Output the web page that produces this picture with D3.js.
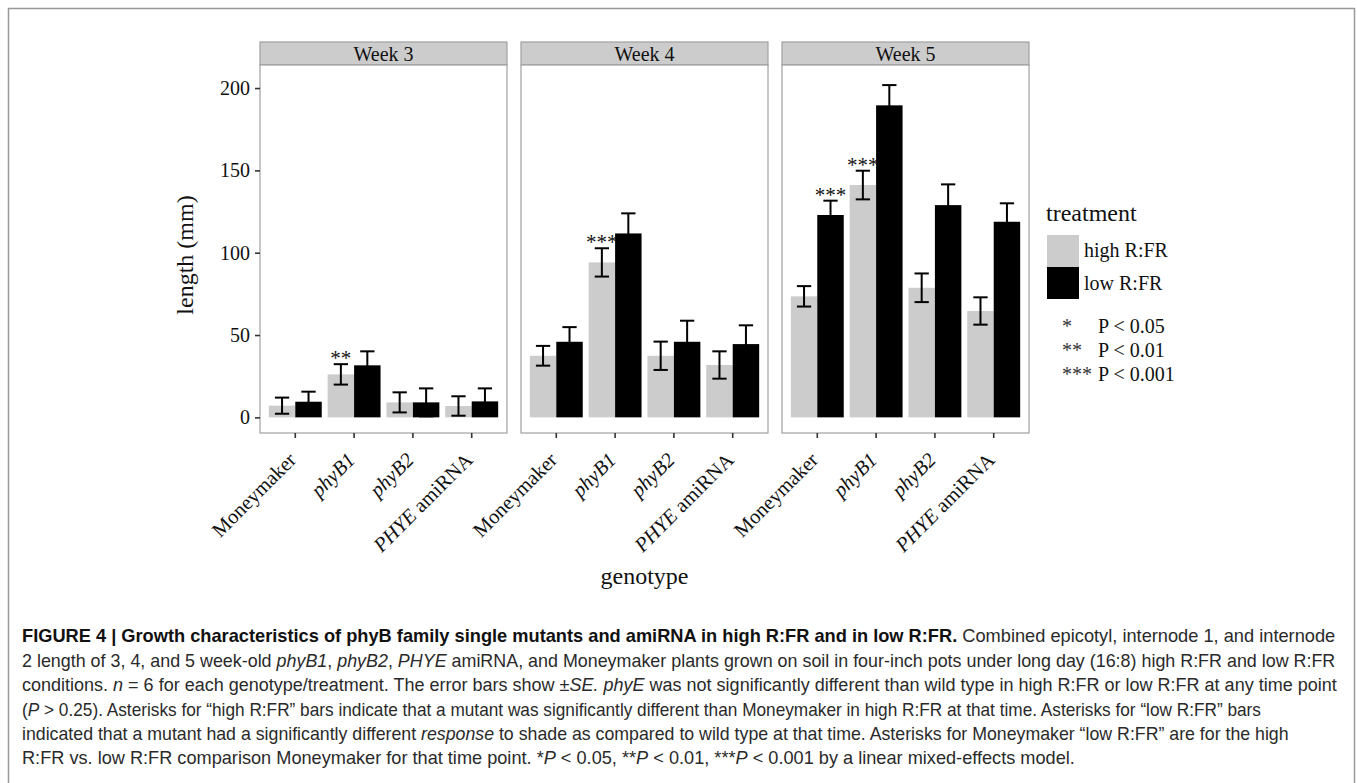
<!DOCTYPE html>
<html><head><meta charset="utf-8">
<script src="https://cdn.jsdelivr.net/npm/d3@7"></script>
<style>body{margin:0;background:#fff} svg{display:block} text{white-space:pre}</style>
</head><body><svg id="c" width="1357" height="783"></svg>
<script>
// ---------- data ----------
const weeks = ["Week 3", "Week 4", "Week 5"];
const genotypes = ["Moneymaker", "phyB1", "phyB2", "PHYE amiRNA"];
const treatments = ["high R:FR", "low R:FR"];
// mean length (mm), rows = weeks, cols = genotypes
const highMean = [[7.1, 26.1, 9.1, 6.9], [37.4, 94.1, 37.4, 31.8], [73.5, 141.1, 78.7, 64.6]];
const highSE   = [[4.9, 6.2, 6.1, 5.9], [6.0, 8.6, 8.6, 8.3], [6.2, 8.7, 8.7, 8.3]];
const lowMean  = [[9.5, 31.6, 9.1, 9.7], [45.9, 111.7, 45.9, 44.5], [122.9, 189.5, 128.9, 118.8]];
const lowSE    = [[6.1, 8.5, 8.5, 7.9], [8.9, 12.2, 12.8, 11.4], [8.7, 12.3, 12.6, 11.2]];
const yTicks = [0, 50, 100, 150, 200];
// significance marks
const sigWeek = ["Week 3", "Week 4", "Week 5", "Week 5"];
const sigGenotype = ["phyB1", "phyB1", "Moneymaker", "phyB1"];
const sigTreatment = ["high R:FR", "high R:FR", "low R:FR", "high R:FR"];
const sigLabel = ["**", "***", "***", "***"];
const sigLegendStars = ["*", "**", "***"];
const sigLegendText = ["P < 0.05", "P < 0.01", "P < 0.001"];

// ---------- setup ----------
const svg = d3.select("#c");
const serif = "'Liberation Serif','Times New Roman',Times,serif";
const sans = "'Liberation Sans Narrow','Arial Narrow','Liberation Sans',Arial,sans-serif";
const ink = "#111";

svg.append("rect").attr("x", 8.5).attr("y", 8.5).attr("width", 1346).attr("height", 800)
  .attr("fill", "none").attr("stroke", "#999").attr("stroke-width", 1.5);

const panelTop = 65, panelBottom = 433, stripTop = 42;
const fx = d3.scaleBand().domain(weeks).range([260, 1029]).paddingInner(14 / 261);
const x = d3.scaleBand().domain(genotypes).range([0, fx.bandwidth()]).paddingInner(0.1).paddingOuter(0.15);
const xt = d3.scaleBand().domain(treatments).range([0, x.bandwidth()]);
const y = d3.scaleLinear().domain([-9.5, 214]).range([panelBottom, panelTop]);
const color = d3.scaleOrdinal().domain(treatments).range(["#cccccc", "#000000"]);

const records = [];
weeks.forEach((w, wi) => genotypes.forEach((g, gi) => {
  records.push({week: w, genotype: g, treatment: treatments[0], mean: highMean[wi][gi], se: highSE[wi][gi]});
  records.push({week: w, genotype: g, treatment: treatments[1], mean: lowMean[wi][gi], se: lowSE[wi][gi]});
}));

function labelParts(sel, g) {
  if (g === "phyB1" || g === "phyB2") sel.append("tspan").attr("font-style", "italic").text(g);
  else if (g === "PHYE amiRNA") {
    sel.append("tspan").attr("font-style", "italic").text("PHYE");
    sel.append("tspan").text(" amiRNA");
  } else sel.append("tspan").text(g);
}

weeks.forEach((w) => {
  const bw = fx.bandwidth();
  const g = svg.append("g").attr("transform", `translate(${fx(w)},0)`);
  // strip
  g.append("rect").attr("x", 0).attr("y", stripTop).attr("width", bw).attr("height", panelTop - stripTop)
    .attr("fill", "#cccccc").attr("stroke", "#a0a0a0").attr("stroke-width", 1.2);
  g.append("text").attr("x", bw / 2).attr("y", (stripTop + panelTop) / 2 + 7)
    .attr("text-anchor", "middle").attr("font-family", serif).attr("font-size", 20).attr("fill", ink).text(w);
  g.append("rect").attr("x", 0).attr("y", panelTop).attr("width", bw).attr("height", panelBottom - panelTop)
    .attr("fill", "#fff");
  const recs = records.filter(r => r.week === w);
  // bars
  g.selectAll("rect.bar").data(recs).join("rect").attr("class", "bar")
    .attr("x", d => x(d.genotype) + xt(d.treatment))
    .attr("width", xt.bandwidth())
    .attr("y", d => y(d.mean))
    .attr("height", d => y(0) - y(d.mean))
    .attr("fill", d => color(d.treatment));
  // error bars
  const cap = xt.bandwidth() * 0.27;
  const eb = g.selectAll("g.eb").data(recs).join("g").attr("class", "eb")
    .attr("transform", d => `translate(${x(d.genotype) + xt(d.treatment) + xt.bandwidth() / 2},0)`)
    .attr("stroke", "#000").attr("stroke-width", 2).attr("fill", "none");
  eb.append("line").attr("x1", 0).attr("x2", 0).attr("y1", d => y(d.mean - d.se)).attr("y2", d => y(d.mean + d.se));
  eb.append("line").attr("x1", -cap).attr("x2", cap).attr("y1", d => y(d.mean + d.se)).attr("y2", d => y(d.mean + d.se));
  eb.append("line").attr("x1", -cap).attr("x2", cap).attr("y1", d => y(d.mean - d.se)).attr("y2", d => y(d.mean - d.se));
  // panel border
  g.append("rect").attr("x", 0).attr("y", panelTop).attr("width", bw).attr("height", panelBottom - panelTop)
    .attr("fill", "none").attr("stroke", "#a0a0a0").attr("stroke-width", 1.2);
  // x axis
  const ax = g.append("g").attr("transform", `translate(0,${panelBottom})`)
    .call(d3.axisBottom(x).tickSize(5).tickSizeOuter(0).tickFormat(""));
  ax.select(".domain").remove();
  ax.selectAll(".tick line").attr("stroke", "#333").attr("stroke-width", 1.6);
  genotypes.forEach(gn => {
    const t = g.append("text")
      .attr("transform", `translate(${x(gn) + x.bandwidth() / 2 - 8},${panelBottom + 18}) rotate(-45)`)
      .attr("text-anchor", "end").attr("dy", "0.7em")
      .attr("font-family", serif).attr("font-size", 20.5).attr("fill", ink);
    labelParts(t, gn);
  });
});

// significance asterisks
sigLabel.forEach((lab, i) => {
  const rec = records.find(r => r.week === sigWeek[i] && r.genotype === sigGenotype[i] && r.treatment === sigTreatment[i]);
  svg.append("text")
    .attr("x", fx(rec.week) + x(rec.genotype) + xt(rec.treatment) + xt.bandwidth() / 2)
    .attr("y", y(rec.mean + rec.se) + 1)
    .attr("text-anchor", "middle").attr("font-family", serif).attr("font-size", 21).attr("fill", ink)
    .text(lab);
});

// y axis
const ay = svg.append("g").attr("transform", `translate(${fx(weeks[0])},0)`)
  .call(d3.axisLeft(y).tickValues(yTicks).tickSize(5).tickPadding(5));
ay.select(".domain").remove();
ay.selectAll(".tick line").attr("stroke", "#333").attr("stroke-width", 1.6);
ay.selectAll(".tick text").attr("font-family", serif).attr("font-size", 20).attr("fill", ink);

// axis titles
svg.append("text").attr("transform", "translate(193,255) rotate(-90)").attr("text-anchor", "middle")
  .attr("font-family", serif).attr("font-size", 24).attr("fill", ink).text("length (mm)");
svg.append("text").attr("x", (fx(weeks[0]) + fx(weeks[2]) + fx.bandwidth()) / 2).attr("y", 584)
  .attr("text-anchor", "middle").attr("font-family", serif).attr("font-size", 24).attr("fill", ink).text("genotype");

// legend
const lg = svg.append("g");
lg.append("text").attr("x", 1046).attr("y", 221).attr("font-family", serif).attr("font-size", 24).attr("fill", ink).text("treatment");
treatments.forEach((t, i) => {
  lg.append("rect").attr("x", 1047).attr("y", 235 + i * 32).attr("width", 32).attr("height", 32).attr("fill", color(t));
  lg.append("text").attr("x", 1084).attr("y", 257 + i * 33).attr("font-family", serif).attr("font-size", 20).attr("fill", ink).text(t);
});
sigLegendStars.forEach((s, i) => {
  lg.append("text").attr("x", 1062).attr("y", 333 + i * 24).attr("font-family", serif).attr("font-size", 20).attr("fill", "#333").text(s);
  lg.append("text").attr("x", 1098).attr("y", 333 + i * 24).attr("font-family", serif).attr("font-size", 20).attr("fill", ink).text(sigLegendText[i]);
});

// caption
const caption = [
  [["FIGURE 4 | Growth characteristics of phyB family single mutants and amiRNA in high R:FR and in low R:FR.", "b"], [" Combined epicotyl, internode 1, and internode", ""]],
  [["2 length of 3, 4, and 5 week-old ", ""], ["phyB1", "i"], [", ", ""], ["phyB2", "i"], [", ", ""], ["PHYE", "i"], [" amiRNA, and Moneymaker plants grown on soil in four-inch pots under long day (16:8) high R:FR and low R:FR", ""]],
  [["conditions. ", ""], ["n", "i"], [" = 6 for each genotype/treatment. The error bars show \u00b1", ""], ["SE. phyE", "i"], [" was not significantly different than wild type in high R:FR or low R:FR at any time point", ""]],
  [["(", ""], ["P", "i"], [" > 0.25). Asterisks for \u201chigh R:FR\u201d bars indicate that a mutant was significantly different than Moneymaker in high R:FR at that time. Asterisks for \u201clow R:FR\u201d bars", ""]],
  [["indicated that a mutant had a significantly different ", ""], ["response", "i"], [" to shade as compared to wild type at that time. Asterisks for Moneymaker \u201clow R:FR\u201d are for the high", ""]],
  [["R:FR vs. low R:FR comparison Moneymaker for that time point. *", ""], ["P", "i"], [" < 0.05, **", ""], ["P", "i"], [" < 0.01, ***", ""], ["P", "i"], [" < 0.001 by a linear mixed-effects model.", ""]]
];
const captionBase = [642, 667, 691, 716, 740, 764];
const captionEnds = [1336, 1336, 1337, 1262, 1290, 1075];
caption.forEach((line, i) => {
  const t = svg.append("text").attr("x", 0).attr("y", 0)
    .attr("font-family", sans).attr("font-size", 18).attr("fill", "#2a2a2a");
  line.forEach(([s, st]) => {
    const sp = t.append("tspan").text(s);
    if (st === "b") sp.attr("font-weight", "bold").attr("fill", "#111");
    if (st === "i") sp.attr("font-style", "italic");
  });
  const sx = (captionEnds[i] - 22) / t.node().getComputedTextLength();
  t.attr("transform", `translate(22,${captionBase[i]}) scale(${sx},1)`);
});
</script></body></html>
